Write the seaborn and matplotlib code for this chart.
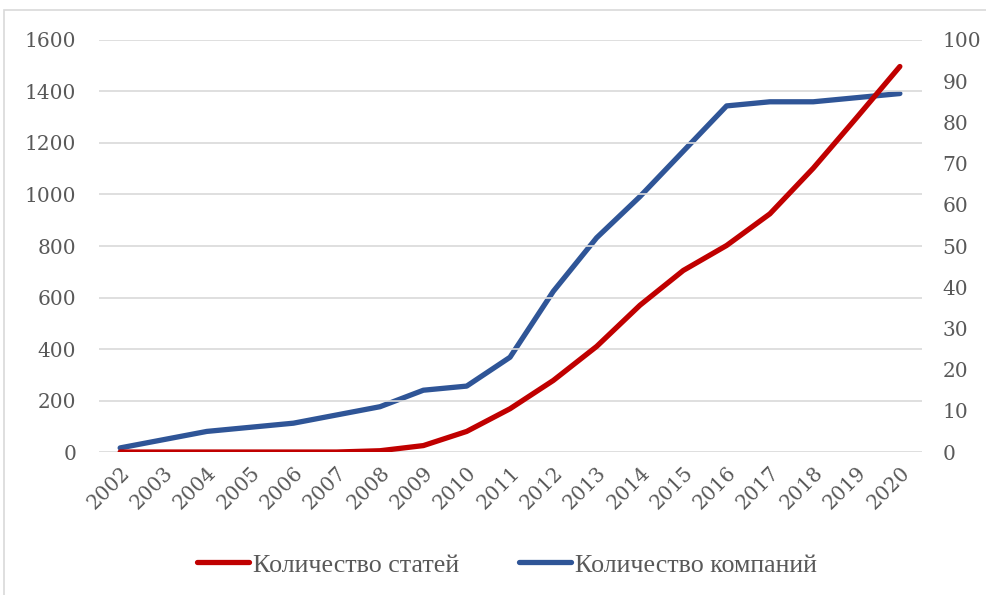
import matplotlib
matplotlib.use("Agg")
import matplotlib.pyplot as plt
import seaborn as sns
import pandas as pd
from matplotlib.lines import Line2D
from matplotlib.patches import Rectangle

# dati
years = list(range(2002, 2021))
articles = [0, 0, 0, 0, 0, 0, 5, 25, 80, 168, 278, 410, 570, 705, 802, 925, 1102, 1298, 1497]
companies = [1, 3, 5, 6, 7, 9, 11, 15, 16, 23, 39, 52, 62, 73, 84, 85, 85, 86, 87]
label_articles = "Количество статей"
label_companies = "Количество компаний"

left_ticks = list(range(0, 1601, 200))
right_ticks = list(range(0, 101, 10))

red = "#C00000"
blue = "#2F5597"
grey_text = "#595959"
grid_col = "#D9D9D9"

df = pd.DataFrame({"year": years, "articles": articles, "companies": companies})

sns.set_style("white")
plt.rcParams["font.family"] = ["DejaVu Serif", "DejaVu Sans"]

fig = plt.figure(figsize=(9.86, 5.95), dpi=100)
ax = fig.add_axes([0.0999, 0.2403, 0.8347, 0.6925])
ax2 = ax.twinx()

# cornice esterna del grafico
fig.patches.append(Rectangle((4 / 986, -0.1), 1.2, 1 - 10 / 595 + 0.1,
                             transform=fig.transFigure, fill=False,
                             edgecolor=grid_col, linewidth=1.2))

# griglia orizzontale
for t in left_ticks:
    ax.axhline(t, color=grid_col, linewidth=1.2, zorder=0)

sns.lineplot(data=df, x="year", y="articles", ax=ax, color=red, linewidth=3.8,
             solid_capstyle="round", zorder=3)
sns.lineplot(data=df, x="year", y="companies", ax=ax2, color=blue, linewidth=3.8,
             solid_capstyle="round", zorder=3)
ax.set_zorder(ax2.get_zorder() + 1)
ax.patch.set_visible(False)

ax.set_xlim(years[0] - 0.5, years[-1] + 0.5)
ax.set_ylim(0, 1600)
ax2.set_ylim(0, 100)

ax.set_yticks(left_ticks)
ax2.set_yticks(right_ticks)
ax.set_xticks(years)
ax.set_xticklabels([str(y) for y in years], rotation=45, ha="right",
                   rotation_mode="anchor")

for a in (ax, ax2):
    for s in a.spines.values():
        s.set_visible(False)
    a.set_xlabel("")
    a.set_ylabel("")
    a.tick_params(length=0, labelsize=14.5, labelcolor=grey_text)
ax.tick_params(axis="y", pad=16)
ax2.tick_params(axis="y", pad=15)
ax.tick_params(axis="x", pad=8)

handles = [Line2D([0], [0], color=red, linewidth=3.8, solid_capstyle="round"),
           Line2D([0], [0], color=blue, linewidth=3.8, solid_capstyle="round")]
leg = fig.legend(handles, [label_articles, label_companies], loc="center",
                 bbox_to_anchor=(0.514, 1 - 565 / 595), ncol=2, frameon=False,
                 prop={"family": "Liberation Serif", "size": 18.7},
                 handlelength=2.0, handletextpad=0.15, columnspacing=2.3)
for txt in leg.get_texts():
    txt.set_color(grey_text)

fig.savefig("out.png", dpi=100)
